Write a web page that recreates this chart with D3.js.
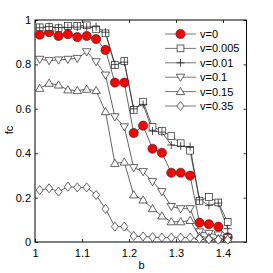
<!DOCTYPE html>
<html>
<head>
<meta charset="utf-8">
<script src="https://cdn.jsdelivr.net/npm/d3@7"></script>
<style>
body { margin: 0; background: #fff; }
text { font-family: "Liberation Sans", Arial, sans-serif; }
</style>
</head>
<body>
<svg id="chart" width="273" height="273"></svg>
<script>
var bValues = [1.01,1.03,1.05,1.07,1.09,1.11,1.13,1.15,1.17,1.19,1.21,1.23,1.25,1.27,1.29,1.31,1.33,1.35,1.37,1.39,1.41]
var labels = ['v=0','v=0.005','v=0.01','v=0.1','v=0.15','v=0.35']
var symbols = ['circle','square','plus','down','up','diamond']
var v0     = [0.934,0.945,0.928,0.936,0.923,0.928,0.914,0.865,0.718,0.718,0.491,0.524,0.420,0.402,0.312,0.312,0.299,0.087,0.080,0.069,0.021]
var v0005  = [0.967,0.968,0.963,0.973,0.974,0.976,0.958,0.940,0.797,0.815,0.595,0.632,0.519,0.501,0.477,0.445,0.411,0.185,0.203,0.178,0.090]
var v001   = [0.965,0.970,0.966,0.966,0.968,0.968,0.970,0.945,0.800,0.810,0.600,0.620,0.500,0.495,0.437,0.432,0.430,0.190,0.165,0.175,0.060]
var v01    = [0.823,0.817,0.820,0.823,0.827,0.857,0.812,0.752,0.564,0.519,0.335,0.317,0.272,0.227,0.160,0.150,0.150,0.046,0.039,0.032,0.020]
var v015   = [0.692,0.715,0.707,0.685,0.682,0.688,0.682,0.587,0.354,0.360,0.212,0.189,0.150,0.117,0.091,0.091,0.097,0.025,0.020,0.015,0.012]
var v035   = [0.234,0.242,0.227,0.249,0.246,0.246,0.212,0.149,0.069,0.069,0.027,0.025,0.022,0.020,0.020,0.020,0.020,0.015,0.012,0.010,0.010]
var series = [v0,v0005,v001,v01,v015,v035]
var xTicks = [1,1.1,1.2,1.3,1.4]
var yTicks = [0,0.2,0.4,0.6,0.8,1]

var svg = d3.select('#chart')
var x = d3.scaleLinear().domain([1,1.45]).range([35,246.5])
var y = d3.scaleLinear().domain([0,1]).range([242,20])

function marker(g, type, cx, cy, fill){
	if (type=='circle') g.append('circle').attr('cx',cx).attr('cy',cy).attr('r',4.6)
		.attr('fill','#f00').attr('stroke','#222').attr('stroke-width',0.6)
	else if (type=='square') g.append('rect').attr('x',cx-3.4).attr('y',cy-3.4).attr('width',6.8).attr('height',6.8)
		.attr('fill',fill).attr('stroke','#222').attr('stroke-width',0.7)
	else if (type=='plus') g.append('path').attr('d','M'+(cx-4)+','+cy+'h8M'+cx+','+(cy-4)+'v8')
		.attr('stroke','#222').attr('stroke-width',0.8)
	else if (type=='down') g.append('path').attr('d','M'+(cx-4.2)+','+(cy-3)+'h8.4L'+cx+','+(cy+4.2)+'Z')
		.attr('fill',fill).attr('stroke','#222').attr('stroke-width',0.7)
	else if (type=='up') g.append('path').attr('d','M'+(cx-4.2)+','+(cy+3)+'h8.4L'+cx+','+(cy-4.2)+'Z')
		.attr('fill',fill).attr('stroke','#222').attr('stroke-width',0.7)
	else if (type=='diamond') g.append('path').attr('d','M'+cx+','+(cy-4.5)+'L'+(cx+3.6)+','+cy+'L'+cx+','+(cy+4.5)+'L'+(cx-3.6)+','+cy+'Z')
		.attr('fill',fill).attr('stroke','#222').attr('stroke-width',0.7)
}

// frame + ticks
svg.append('rect').attr('x',35).attr('y',20).attr('width',211.5).attr('height',222)
	.attr('fill','none').attr('stroke','#000').attr('stroke-width',1)
var axB = svg.append('g').attr('transform','translate(0,242)')
	.call(d3.axisBottom(x).tickValues(xTicks).tickSize(-3).tickPadding(7).tickFormat(d3.format('')))
var axT = svg.append('g').attr('transform','translate(0,20)')
	.call(d3.axisTop(x).tickValues(xTicks).tickSize(-3).tickFormat(''))
var axL = svg.append('g').attr('transform','translate(35,0)')
	.call(d3.axisLeft(y).tickValues(yTicks).tickSize(-3).tickPadding(4).tickFormat(d3.format('')))
var axR = svg.append('g').attr('transform','translate(246.5,0)')
	.call(d3.axisRight(y).tickValues(yTicks).tickSize(-3).tickFormat(''))
svg.selectAll('.domain').remove()
svg.selectAll('.tick line').attr('stroke','#000').attr('stroke-width',0.8)
svg.selectAll('.tick text').attr('font-size',11).attr('fill','#000')
	.style('font-family','"Liberation Sans", Arial, sans-serif')

svg.append('text').attr('x',141.5).attr('y',269).attr('text-anchor','middle')
	.attr('font-size',11).text('b')
svg.append('text').attr('transform','translate(13,130) rotate(-90)').attr('text-anchor','middle')
	.attr('font-size',11).text('fc')

// data
var line = d3.line().x((d,i)=>x(bValues[i])).y(d=>y(d))
var plot = svg.append('g')
series.forEach(function(s,k){
	plot.append('path').attr('d',line(s)).attr('fill','none')
		.attr('stroke','#222').attr('stroke-width',0.7)
})
series.forEach(function(s,k){
	var g = plot.append('g')
	s.forEach(function(d,i){ marker(g, symbols[k], x(bValues[i]), y(d), '#fff') })
})

// legend
var lg = svg.append('g')
labels.forEach(function(l,k){
	var ly = 34 + k*14.4
	lg.append('line').attr('x1',165).attr('x2',196).attr('y1',ly).attr('y2',ly)
		.attr('stroke','#777').attr('stroke-width',1)
	marker(lg, symbols[k], 180.5, ly, '#fff')
	lg.append('text').attr('x',200).attr('y',ly+4).attr('font-size',11).text(l)
})
</script>
</body>
</html>
